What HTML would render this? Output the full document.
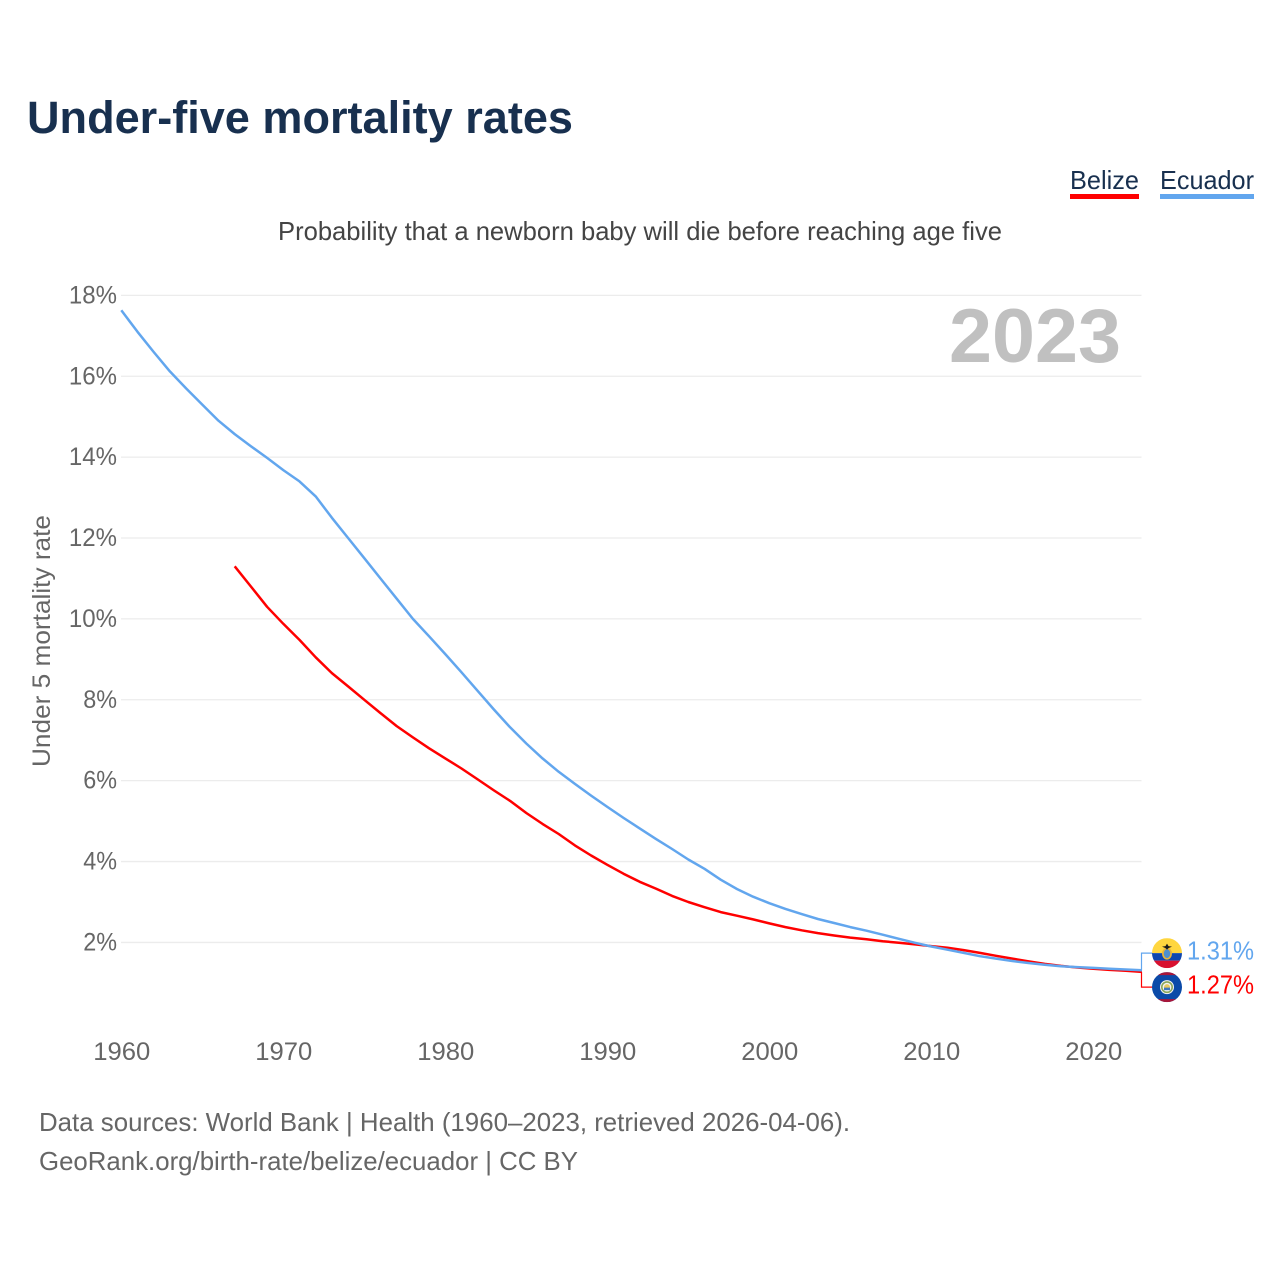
<!DOCTYPE html>
<html lang="en">
<head>
<meta charset="utf-8">
<title>Under-five mortality rates</title>
<style>
html,body{margin:0;padding:0;background:#fff;width:1280px;height:1280px;overflow:hidden}
svg{display:block}
text{font-family:"Liberation Sans",Arial,sans-serif}
</style>
</head>
<body>
<svg id="chart" xmlns="http://www.w3.org/2000/svg" width="1280" height="1280" viewBox="0 0 1280 1280">
  <text x="27" y="133" font-size="45" font-weight="700" fill="#18304f" textLength="546" lengthAdjust="spacingAndGlyphs">Under-five mortality rates</text>
  <g>
    <text x="1070" y="189" font-size="26" fill="#18304f" textLength="69" lengthAdjust="spacingAndGlyphs">Belize</text>
    <rect x="1070" y="194" width="69" height="5" fill="#ff0000"/>
  </g>
  <g>
    <text x="1160" y="189" font-size="26" fill="#18304f" textLength="94" lengthAdjust="spacingAndGlyphs">Ecuador</text>
    <rect x="1160" y="194" width="94" height="5" fill="#62a6ee"/>
  </g>
  <text x="278" y="240" font-size="26" fill="#444444" textLength="724" lengthAdjust="spacingAndGlyphs">Probability that a newborn baby will die before reaching age five</text>
  <text transform="translate(50,767) rotate(-90)" x="0" y="0" font-size="25" fill="#666666" textLength="252" lengthAdjust="spacingAndGlyphs">Under 5 mortality rate</text>
  <g id="grid"></g>
  <g id="yticks"></g>
  <g id="xticks"></g>
  <text id="yearLabel" x="949" y="362" font-size="76" font-weight="700" fill="#c0c0c0" textLength="172" lengthAdjust="spacingAndGlyphs"></text>
  <g id="series"></g>
  <g id="ends"></g>
  <text x="39" y="1131" font-size="26" fill="#666666" textLength="811" lengthAdjust="spacingAndGlyphs">Data sources: World Bank | Health (1960–2023, retrieved 2026-04-06).</text>
  <text x="39" y="1170" font-size="26" fill="#666666" textLength="539" lengthAdjust="spacingAndGlyphs">GeoRank.org/birth-rate/belize/ecuador | CC BY</text>
  <defs>
    <clipPath id="clipCircle"><circle cx="0" cy="0" r="15"/></clipPath>
  </defs>
</svg>
<script>
const yTicks = [2, 4, 6, 8, 10, 12, 14, 16, 18];
const xTicks = [1960, 1970, 1980, 1990, 2000, 2010, 2020];
const currentYear = 2023;
const ecuadorFirstYear = 1960;
const ecuadorValues = [17.63,17.1,16.6,16.12,15.7,15.3,14.9,14.57,14.27,13.98,13.68,13.4,13.03,12.5,12.0,11.5,11.0,10.5,10.0,9.57,9.13,8.68,8.22,7.76,7.32,6.92,6.55,6.22,5.92,5.63,5.35,5.08,4.82,4.56,4.31,4.05,3.82,3.55,3.32,3.13,2.97,2.83,2.7,2.58,2.48,2.38,2.29,2.19,2.09,1.99,1.9,1.82,1.74,1.66,1.6,1.54,1.49,1.45,1.41,1.39,1.37,1.35,1.33,1.31];
const belizeFirstYear = 1967;
const belizeValues = [11.3,10.8,10.3,9.88,9.48,9.05,8.66,8.33,8.0,7.67,7.35,7.07,6.8,6.55,6.3,6.03,5.76,5.5,5.2,4.93,4.68,4.4,4.15,3.92,3.7,3.5,3.33,3.15,3.0,2.87,2.75,2.66,2.57,2.47,2.38,2.3,2.23,2.17,2.12,2.08,2.03,1.99,1.95,1.91,1.87,1.81,1.74,1.67,1.6,1.53,1.47,1.42,1.38,1.35,1.32,1.3,1.27];

const NS = 'http://www.w3.org/2000/svg';
function xScale(year){ return 121.3 + (year - 1960) * 16.2; }
function yScale(v){ return 1023.3 - v * 40.44; }
function mk(tag, attrs, parent){
  const el = document.createElementNS(NS, tag);
  for (const k in attrs) el.setAttribute(k, attrs[k]);
  parent.appendChild(el);
  return el;
}
function linePath(firstYear, values){
  return values.map((v, i) => (i ? 'L' : 'M') + xScale(firstYear + i).toFixed(1) + ' ' + yScale(v).toFixed(1)).join(' ');
}

const grid = document.getElementById('grid');
const yt = document.getElementById('yticks');
const xt = document.getElementById('xticks');
document.getElementById('yearLabel').textContent = currentYear;

yTicks.forEach(v => {
  const l = mk('line', {x1:121, x2:1141.5, y1:yScale(v), y2:yScale(v), stroke:'#ececec', 'stroke-width':1.3}, grid);
  
  
  const label = v + '%';
  const t = mk('text', {x:117, y:yScale(v)+8, 'text-anchor':'end', 'font-size':25, fill:'#666666',
    textLength:(label.length-1)*14.3+19.5, lengthAdjust:'spacingAndGlyphs'}, yt);
  
  
  t.textContent = label;
});
xTicks.forEach(y => {
  const t = mk('text', {x:xScale(y)+0.5, y:1060, 'text-anchor':'middle', 'font-size':25, fill:'#666666',
    textLength:57, lengthAdjust:'spacingAndGlyphs'}, xt);
  
  
  t.textContent = y;
});

const series = document.getElementById('series');
const redLine = mk('path', {d:linePath(belizeFirstYear, belizeValues), fill:'none', stroke:'#ff0000', 'stroke-width':2.5, 'stroke-linejoin':'round'}, series);


const blueLine = mk('path', {d:linePath(ecuadorFirstYear, ecuadorValues), fill:'none', stroke:'#62a6ee', 'stroke-width':2.5, 'stroke-linejoin':'round'}, series);



/* end labels, pushed apart around the series end points */
const ends = document.getElementById('ends');
const lastE = ecuadorValues[ecuadorValues.length-1];
const lastB = belizeValues[belizeValues.length-1];
const yE = yScale(lastE), yB = yScale(lastB);
const mid = (yE + yB) / 2;
const cyE = mid - 18, cyB = mid + 16;

const c1 = mk('path', {d:`M1141.5 ${yE} V${cyE} H1153`, fill:'none', stroke:'#62a6ee', 'stroke-width':1.2}, ends);


const c2 = mk('path', {d:`M1141.5 ${yB} V${cyB} H1153`, fill:'none', stroke:'#ff0000', 'stroke-width':1.2}, ends);



/* Ecuador flag */
const fe = mk('g', {transform:`translate(1167,${cyE})`, 'clip-path':'url(#clipCircle)'}, ends);


mk('rect', {x:-15, y:-15, width:30, height:15, fill:'#ffd63f'}, fe);
mk('rect', {x:-15, y:0, width:30, height:7.5, fill:'#0f47af'}, fe);
mk('rect', {x:-15, y:7.5, width:30, height:7.5, fill:'#d8102f'}, fe);
mk('ellipse', {cx:0, cy:0.5, rx:5, ry:6, fill:'#e8b33a'}, fe);
mk('ellipse', {cx:0, cy:0.5, rx:3.2, ry:4.4, fill:'#4d8fd0'}, fe);
mk('path', {d:'M-5 -6.5 L-1.5 -7 L0 -9.5 L1.5 -7 L5 -6.5 L1.5 -5 L0 -3.5 L-1.5 -5 Z', fill:'#1a1a1a'}, fe);

/* Belize flag */
const fb = mk('g', {transform:`translate(1167,${cyB})`, 'clip-path':'url(#clipCircle)'}, ends);


mk('rect', {x:-15, y:-15, width:30, height:30, fill:'#0b4aa8'}, fb);
mk('rect', {x:-15, y:-15, width:30, height:3, fill:'#a8173a'}, fb);
mk('rect', {x:-15, y:12, width:30, height:3, fill:'#a8173a'}, fb);
mk('circle', {cx:0, cy:0, r:7, fill:'#f4f4f4'}, fb);
mk('circle', {cx:0, cy:0, r:5.2, fill:'none', stroke:'#8aa65a', 'stroke-width':1.6}, fb);
mk('circle', {cx:0, cy:0, r:3, fill:'#e8c860'}, fb);
mk('rect', {x:-3, y:0.5, width:6, height:2.5, fill:'#3f78c0'}, fb);

const te = mk('text', {x:1187, y:cyE+6.5, 'font-size':26, fill:'#62a6ee', textLength:67, lengthAdjust:'spacingAndGlyphs'}, ends);


te.textContent = lastE.toFixed(2) + '%';
const tb = mk('text', {x:1187, y:cyB+6.5, 'font-size':26, fill:'#ff0000', textLength:67, lengthAdjust:'spacingAndGlyphs'}, ends);


tb.textContent = lastB.toFixed(2) + '%';
</script>
</body>
</html>
